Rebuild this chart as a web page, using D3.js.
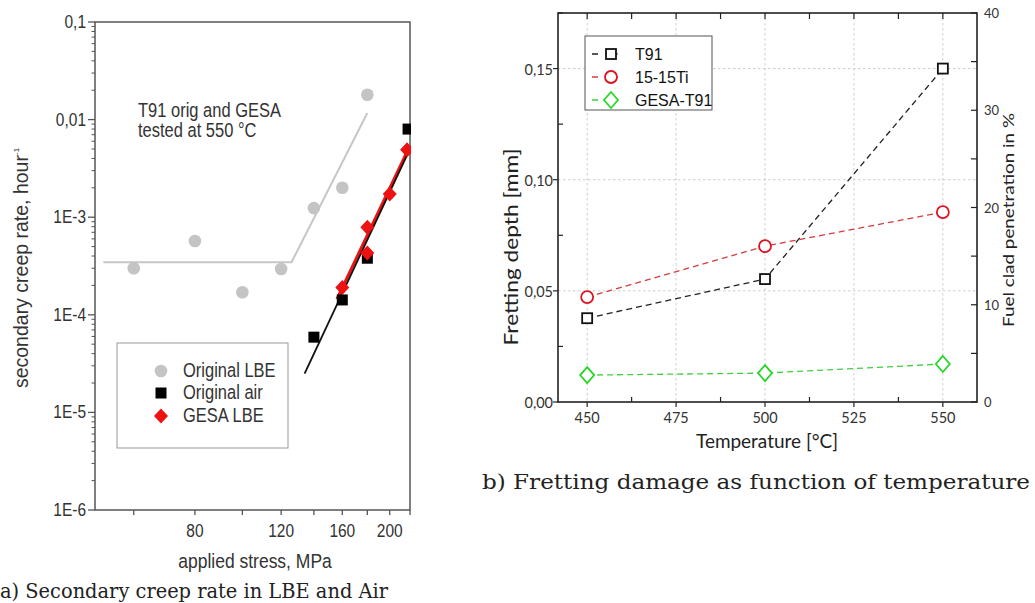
<!DOCTYPE html>
<html><head><meta charset="utf-8">
<script src="https://cdn.jsdelivr.net/npm/d3@7"></script>
<style>body{margin:0;background:#fff}svg{display:block}</style>
</head><body>
<svg id="c" width="1035" height="603"></svg>
<script>
// ---------- Data: panel a ----------
const origLBEStress = [60, 80, 100, 120, 140, 160, 180];
const origLBERate   = [3.0e-4, 5.7e-4, 1.7e-4, 2.95e-4, 1.24e-3, 2.0e-3, 1.8e-2];
const origAirStress = [140, 160, 180, 218];
const origAirRate   = [5.9e-5, 1.42e-4, 3.8e-4, 8.0e-3];
const gesaLBEStress = [160, 180, 180, 200, 217];
const gesaLBERate   = [1.9e-4, 7.9e-4, 4.3e-4, 1.73e-3, 4.9e-3];
const fitLBEStress  = [52, 126, 180];
const fitLBERate    = [3.45e-4, 3.45e-4, 1.17e-2];
const fitAirStress  = [134, 220];
const fitAirRate    = [2.5e-5, 5.0e-3];
const fitGesaStress = [156, 220];
const fitGesaRate   = [1.45e-4, 5.4e-3];
const yTicksA       = [0.1, 0.01, 1e-3, 1e-4, 1e-5, 1e-6];
const yTickLabelsA  = ["0,1", "0,01", "1E-3", "1E-4", "1E-5", "1E-6"];
const xTicksA       = [60, 80, 100, 120, 140, 160, 180, 200, 220];
const xTickLabelsA  = ["", "80", "", "120", "", "160", "", "200", ""];
const legendA       = ["Original LBE", "Original air", "GESA LBE"];

// ---------- Data: panel b ----------
const temps   = [450, 500, 550];
const t91     = [0.0377, 0.0553, 0.150];
const ti1515  = [0.0472, 0.0701, 0.0854];
const gesaT91 = [0.0121, 0.0130, 0.0171];
const xTicksB = [450, 475, 500, 525, 550];
const yTicksB = [0, 0.05, 0.10, 0.15];
const yTickLabelsB = ["0,00", "0,05", "0,10", "0,15"];
const y2TicksB = [0, 10, 20, 30, 40];
const legendB = ["T91", "15-15Ti", "GESA-T91"];

const svg = d3.select("#c");

function txt(g, x, y, s, o = {}) {
  const t = g.append("text").text(s)
    .attr("font-family", o.ff || "Liberation Sans, Arial, sans-serif")
    .attr("font-size", o.fs || 15)
    .attr("fill", o.fill || "#333")
    .attr("text-anchor", o.anchor || "start");
  if (o.db) t.attr("dominant-baseline", o.db);
  let tr = `translate(${x},${y})`;
  if (o.rot) tr += ` rotate(${o.rot})`;
  if (o.sy) tr += ` scale(1,${o.sy})`;
  t.attr("x", 0).attr("y", 0).attr("transform", tr);
  if (o.len) t.attr("textLength", o.len).attr("lengthAdjust", "spacingAndGlyphs");
  return t;
}

// ================= Panel a =================
(function () {
  const L = 95, R = 410, T = 22, B = 510;
  const x = d3.scaleLog().domain([50, 220]).range([L, R]);
  const y = d3.scaleLog().domain([1e-6, 0.1]).range([B, T]);
  const g = svg.append("g");
  const ax = "#555";
  const SY = 1.18;

  const minors = [];
  for (let e = -6; e < -1; e++) for (let k = 2; k <= 9; k++) minors.push(k * Math.pow(10, e));
  g.selectAll(".ym").data(minors).join("line")
    .attr("x1", L - 3.5).attr("x2", L).attr("y1", d => y(d)).attr("y2", d => y(d))
    .attr("stroke", ax).attr("stroke-width", 1);
  g.selectAll(".yM").data(yTicksA).join("line")
    .attr("x1", L - 7).attr("x2", L).attr("y1", d => y(d)).attr("y2", d => y(d))
    .attr("stroke", ax).attr("stroke-width", 1.3);
  yTicksA.forEach((d, i) => txt(g, L - 9, y(d), yTickLabelsA[i], { anchor: "end", db: "central", fs: 15.5, sy: SY }));

  g.selectAll(".xM").data(xTicksA).join("line")
    .attr("x1", d => x(d)).attr("x2", d => x(d)).attr("y1", B).attr("y2", B + 5)
    .attr("stroke", ax).attr("stroke-width", 1.3);
  xTicksA.forEach((d, i) => { if (xTickLabelsA[i]) txt(g, x(d), 537, xTickLabelsA[i], { anchor: "middle", fs: 15.5, sy: SY }); });

  g.append("rect").attr("x", L).attr("y", T).attr("width", R - L).attr("height", B - T)
    .attr("fill", "none").attr("stroke", ax).attr("stroke-width", 1.5);

  svg.append("defs").append("clipPath").attr("id", "clipA")
    .append("rect").attr("x", L).attr("y", T).attr("width", R - L + 1).attr("height", B - T);
  const p = g.append("g").attr("clip-path", "url(#clipA)");

  const line = d3.line().x(d => x(d[0])).y(d => y(d[1]));
  p.append("path").attr("d", line(d3.zip(fitLBEStress, fitLBERate)))
    .attr("fill", "none").attr("stroke", "#c6c6c6").attr("stroke-width", 2);
  p.append("path").attr("d", line(d3.zip(fitGesaStress, fitGesaRate)))
    .attr("fill", "none").attr("stroke", "#ee1111").attr("stroke-width", 3);
  p.append("path").attr("d", line(d3.zip(fitAirStress, fitAirRate)))
    .attr("fill", "none").attr("stroke", "#111").attr("stroke-width", 1.8);

  p.selectAll(".c").data(d3.zip(origLBEStress, origLBERate)).join("circle")
    .attr("cx", d => x(d[0])).attr("cy", d => y(d[1])).attr("r", 6.3).attr("fill", "#c4c4c4");
  p.selectAll(".s").data(d3.zip(origAirStress, origAirRate)).join("rect")
    .attr("x", d => x(d[0]) - 5.5).attr("y", d => y(d[1]) - 5.5).attr("width", 11).attr("height", 11).attr("fill", "#000");
  const dia = "M0,-7.5L7,0L0,7.5L-7,0Z";
  p.selectAll(".d").data(d3.zip(gesaLBEStress, gesaLBERate)).join("path")
    .attr("d", dia).attr("transform", d => `translate(${x(d[0])},${y(d[1])})`).attr("fill", "#ee1111");

  txt(g, 138, 117, "T91 orig and GESA", { fs: 16.5, sy: SY });
  txt(g, 138, 137, "tested at 550 °C", { fs: 16.5, sy: SY });

  g.append("rect").attr("x", 117).attr("y", 343).attr("width", 171).attr("height", 105)
    .attr("fill", "#fff").attr("stroke", "#999").attr("stroke-width", 1);
  const ly = [371, 393, 416];
  g.append("circle").attr("cx", 161).attr("cy", ly[0]).attr("r", 6.3).attr("fill", "#c4c4c4");
  g.append("rect").attr("x", 155.5).attr("y", ly[1] - 5.5).attr("width", 11).attr("height", 11).attr("fill", "#000");
  g.append("path").attr("d", dia).attr("transform", `translate(161,${ly[2]})`).attr("fill", "#ee1111");
  legendA.forEach((s, i) => txt(g, 183, ly[i], s, { fs: 16.5, db: "central", sy: SY }));

  const yl = txt(g, 21, 268, "secondary creep rate, hour", { fs: 19.5, anchor: "middle", db: "central", rot: -90 });
  yl.append("tspan").attr("font-size", 8).attr("baseline-shift", "super").text("-1");
  txt(g, 255, 568, "applied stress, MPa", { fs: 17.5, anchor: "middle", sy: SY });

  txt(g, 0, 598, "a) Secondary creep rate in LBE and Air", { ff: "DejaVu Serif, serif", fs: 21, len: 388, fill: "#222" });
})();

// ================= Panel b =================
(function () {
  const L = 558, R = 977, T = 13, B = 402;
  const x = d3.scaleLinear().domain([441.8, 559.6]).range([L, R]);
  const y = d3.scaleLinear().domain([0, 0.175]).range([B, T]);
  const y2 = d3.scaleLinear().domain([0, 40]).range([B, T]);
  const g = svg.append("g");
  const ax = "#222";
  const F = "Lato, Open Sans, sans-serif";

  g.selectAll(".gx").data(xTicksB).join("line")
    .attr("x1", d => x(d)).attr("x2", d => x(d)).attr("y1", T).attr("y2", B)
    .attr("stroke", "#c8c8c8").attr("stroke-width", 0.9).attr("stroke-dasharray", "2.5,2.5");
  g.selectAll(".gy").data(yTicksB.slice(1)).join("line")
    .attr("x1", L).attr("x2", R).attr("y1", d => y(d)).attr("y2", d => y(d))
    .attr("stroke", "#c8c8c8").attr("stroke-width", 0.9).attr("stroke-dasharray", "2.5,2.5");

  const xMinor = d3.range(xTicksB.length - 1).map(i => (xTicksB[i] + xTicksB[i + 1]) / 2);
  const xAll = xTicksB.concat(xMinor);
  g.selectAll(".xt").data(xTicksB).join("line")
    .attr("x1", d => x(d)).attr("x2", d => x(d)).attr("y1", B).attr("y2", B + 5).attr("stroke", ax).attr("stroke-width", 1.2);
  g.selectAll(".xtm").data(xMinor).join("line")
    .attr("x1", d => x(d)).attr("x2", d => x(d)).attr("y1", B).attr("y2", B - 5).attr("stroke", ax).attr("stroke-width", 1.2);
  g.selectAll(".xtt").data(xAll).join("line")
    .attr("x1", d => x(d)).attr("x2", d => x(d)).attr("y1", T).attr("y2", T + 6).attr("stroke", ax).attr("stroke-width", 1.2);
  const yMinor = d3.range(yTicksB.length).map(i => yTicksB[i] + 0.025);
  g.selectAll(".yt").data(yTicksB).join("line")
    .attr("x1", L - 5).attr("x2", L).attr("y1", d => y(d)).attr("y2", d => y(d)).attr("stroke", ax).attr("stroke-width", 1.2);
  g.selectAll(".ytm").data(yMinor).join("line")
    .attr("x1", L).attr("x2", L + 5).attr("y1", d => y(d)).attr("y2", d => y(d)).attr("stroke", ax).attr("stroke-width", 1.2);
  const y2All = d3.range(0, 41, 5);
  g.selectAll(".y2t").data(y2All).join("line")
    .attr("x1", R - 6).attr("x2", R).attr("y1", d => y2(d)).attr("y2", d => y2(d)).attr("stroke", ax).attr("stroke-width", 1.2);

  g.append("rect").attr("x", L).attr("y", T).attr("width", R - L).attr("height", B - T)
    .attr("fill", "none").attr("stroke", ax).attr("stroke-width", 1.6);

  xTicksB.forEach(d => txt(g, x(d), 423, String(d), { ff: F, fs: 14.5, anchor: "middle", sy: 1.12 }));
  yTicksB.forEach((d, i) => txt(g, L - 5, y(d), yTickLabelsB[i], { ff: F, fs: 14.5, anchor: "end", db: "central", sy: 1.12 }));
  y2TicksB.forEach(d => txt(g, 984, y2(d), String(d), { ff: F, fs: 13, db: "central", sy: 1.1 }));

  const series = [
    { v: t91, line: "#222", mk: "#111", type: "square" },
    { v: ti1515, line: "#d83a3a", mk: "#e0101e", type: "circle" },
    { v: gesaT91, line: "#3fcf3f", mk: "#26d826", type: "diamond" }
  ];
  function marker(sel, type, col) {
    if (type === "square") sel.append("rect").attr("x", -5).attr("y", -5).attr("width", 10).attr("height", 10);
    else if (type === "circle") sel.append("circle").attr("r", 6);
    else sel.append("path").attr("d", "M0,-8L7,0L0,8L-7,0Z");
    sel.selectAll("rect,circle,path").attr("fill", "#fff").attr("stroke", col).attr("stroke-width", 1.8);
  }
  const ln = d3.line().x((d, i) => x(temps[i])).y(d => y(d));
  series.forEach(s => {
    g.append("path").attr("d", ln(s.v)).attr("fill", "none").attr("stroke", s.line)
      .attr("stroke-width", 1.3).attr("stroke-dasharray", "6,4");
  });
  series.forEach(s => {
    s.v.forEach((v, i) => {
      const m = g.append("g").attr("transform", `translate(${x(temps[i])},${y(v)})`);
      marker(m, s.type, s.mk);
    });
  });

  g.append("rect").attr("x", 585).attr("y", 36).attr("width", 127).attr("height", 74)
    .attr("fill", "#fff").attr("stroke", "#555").attr("stroke-width", 1);
  const ly = [54, 77, 100];
  series.forEach((s, i) => {
    g.append("line").attr("x1", 592).attr("x2", 631).attr("y1", ly[i]).attr("y2", ly[i])
      .attr("stroke", s.line).attr("stroke-width", 1.3).attr("stroke-dasharray", "6,7,8,3,1.5,20");
    const m = g.append("g").attr("transform", `translate(611,${ly[i]})`);
    marker(m, s.type, s.mk);
    txt(g, 635, ly[i], legendB[i], { fs: 16, db: "central", fill: "#111", sy: 1.08 });
  });

  txt(g, 510, 247, "Fretting depth [mm]", { ff: F, fs: 19, anchor: "middle", db: "central", rot: -90, len: 197, fill: "#222" });
  txt(g, 767, 448, "Temperature [°C]", { ff: F, fs: 19.5, anchor: "middle", len: 142, fill: "#222" });
  txt(g, 1008, 220, "Fuel clad penetration in %", { ff: F, fs: 15, anchor: "middle", db: "central", rot: -90, len: 214, fill: "#222" });

  txt(g, 482, 489, "b) Fretting damage as function of temperature", { ff: "DejaVu Serif, serif", fs: 21, len: 548, fill: "#222" });
})();
</script>
</body></html>
